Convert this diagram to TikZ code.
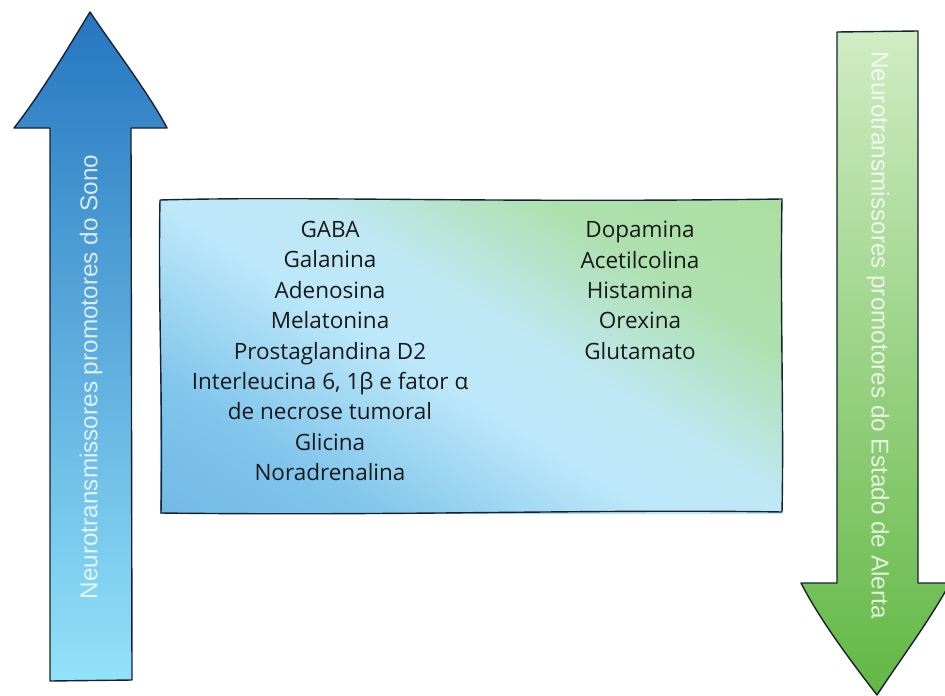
\documentclass[tikz,border=0pt]{standalone}
\usepackage{fontspec}
\setmainfont{Open Sans}
\newfontfamily\arrowfont{Liberation Sans}
\usetikzlibrary{shadings}

\definecolor{blueTop}{RGB}{38,118,192}
\definecolor{blueBot}{RGB}{146,226,250}
\definecolor{greenTop}{RGB}{208,236,196}
\definecolor{greenBot}{RGB}{98,184,68}
\definecolor{outline}{RGB}{22,34,50}
\definecolor{ink}{RGB}{25,25,25}

% blue -> pale cyan -> green band for the central panel
\pgfdeclarehorizontalshading{panelshade}{100bp}{
  rgb(0bp)=(0.38,0.68,0.88);
  rgb(28bp)=(0.50,0.77,0.92);
  rgb(46bp)=(0.74,0.91,0.98);
  rgb(55bp)=(0.75,0.91,0.96);
  rgb(70bp)=(0.68,0.88,0.68);
  rgb(100bp)=(0.66,0.87,0.58)}

\tikzset{
  arrowshape/.style={draw=outline, line width=1.4pt, line join=round},
  arrowlabel/.style={font=\arrowfont\fontsize{24.3}{27}\selectfont, text=white, text opacity=0.8, inner sep=0pt},
  listtext/.style={font=\fontsize{22.5}{30.4}\selectfont, text=ink, align=center, inner sep=0pt, anchor=north},
}

\begin{document}
\begin{tikzpicture}[x=1pt,y=-1pt]
\useasboundingbox (0,0) rectangle (945,696);

% left arrow (pointing up)
\path[arrowshape, top color=blueTop, bottom color=blueBot]
  (50,681) -- (50,128) -- (14,128)
  .. controls (40,95) and (70,45) .. (90,12)
  .. controls (112,45) and (150,95) .. (167,128)
  -- (131,128) -- (132,680) -- cycle;
\node[arrowlabel, rotate=90] (sleep) at (91,377) {Neurotransmissores promotores do Sono};

% right arrow (pointing down)
\path[arrowshape, top color=greenTop, bottom color=greenBot]
  (837,32) -- (918,31) -- (918,583) -- (950,583)
  .. controls (930,620) and (900,660) .. (877,695)
  .. controls (850,660) and (820,620) .. (801,583)
  -- (837,583) -- cycle;
\node[arrowlabel, rotate=-90] (alert) at (878,335) {Neurotransmissores promotores do Estado de Alerta};

% central panel
\path[shading=panelshade, shading angle=58]
  (160,200) rectangle (782,513);
\draw[outline, line width=1.4pt, line join=round]
  (160,200) .. controls (300,196) and (500,203) .. (782,199)
  .. controls (780,300) and (784,420) .. (782,512)
  .. controls (600,509) and (400,516) .. (161,513)
  .. controls (163,400) and (158,300) .. (160,200) -- cycle;

\node[listtext] (sleeplist) at (330,221) {GABA\\Galanina\\Adenosina\\Melatonina\\Prostaglandina D2\\Interleucina 6, 1β e fator α\\de necrose tumoral\\Glicina\\Noradrenalina};
\node[listtext] (alertlist) at (640,221) {Dopamina\\Acetilcolina\\Histamina\\Orexina\\Glutamato};
\end{tikzpicture}
\end{document}
